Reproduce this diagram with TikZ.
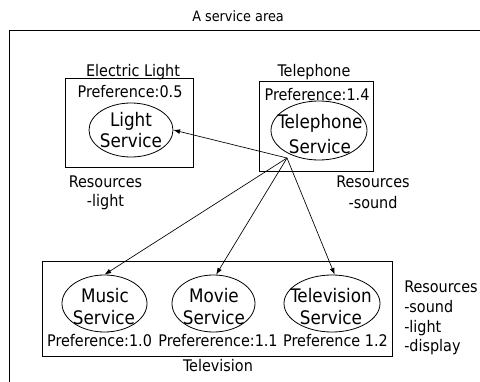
\documentclass[tikz,border=0pt]{standalone}
\usepackage{fontspec}
\setmainfont{DejaVu Sans Condensed}
\usetikzlibrary{shapes.geometric,arrows.meta}
\tikzset{
  frame/.style={draw, line width=0.6pt},
  svc/.style={draw, ellipse, line width=0.6pt, inner sep=0pt},
  txt/.style={anchor=base, inner sep=0pt, font=\fontsize{12}{14}\selectfont},
  btxt/.style={txt, font=\fontsize{14}{16}\selectfont},
  ltxt/.style={txt, anchor=base west},
  link/.style={draw, line width=0.5pt, -{Latex[length=5pt,width=3.6pt]}},
}
\begin{document}
\begin{tikzpicture}[x=0.75pt,y=-0.75pt]
\useasboundingbox (0,0) rectangle (480,382);

% overall area, running past the page edges
\draw[frame] (9,400) -- (9,30) -- (500,30);
\node[txt, font=\fontsize{10.7}{12}\selectfont] (title) at (238,21.5) {A service area};

% electric light device
\draw[frame] (65,78) rectangle (193,167);
\node[txt] (elname) at (133,77) {Electric Light};
\node[txt] (elpref) at (130,98) {Preference:0.5};
\node[svc, minimum width=63pt, minimum height=40.5pt] (light) at (131,130) {};
\node[btxt] (light1) at (131,127) {Light};
\node[btxt] (light2) at (131,147) {Service};
\node[txt] (elres1) at (105.5,187) {Resources};
\node[txt] (elres2) at (105.5,207) {-light};

% telephone device
\draw[frame] (259,81) rectangle (373,171);
\node[txt] (telname) at (314,77) {Telephone};
\node[txt] (telpref) at (317,100) {Preference:1.4};
\node[svc, minimum width=72pt, minimum height=44.25pt] (tel) at (319,130.5) {};
\node[btxt] (tel1) at (320,128) {Telephone};
\node[btxt] (tel2) at (320,153) {Service};
\node[txt] (telres1) at (373,188) {Resources};
\node[txt] (telres2) at (373,209) {-sound};

% television device
\draw[frame] (42,261) rectangle (392,356);
\node[txt] (tvname) at (218,372) {Television};
\node[svc, minimum width=63.75pt, minimum height=42.75pt] (music) at (104.5,303.5) {};
\node[btxt] (music1) at (105,303) {Music};
\node[btxt] (music2) at (104,325) {Service};
\node[txt] (musicpref) at (99.5,347) {Preference:1.0};
\node[svc, minimum width=62.25pt, minimum height=42.75pt] (movie) at (213.5,303.5) {};
\node[btxt] (movie1) at (214,303) {Movie};
\node[btxt] (movie2) at (214,325) {Service};
\node[txt] (moviepref) at (218,347) {Prefererence:1.1};
\node[svc, minimum width=72pt, minimum height=42.75pt] (tv) at (332,303.5) {};
\node[btxt] (tv1) at (331,303) {Television};
\node[btxt] (tv2) at (331,325) {Service};
\node[txt] (tvpref) at (335.5,347) {Preference 1.2};
\node[ltxt] (tvres1) at (404,292) {Resources};
\node[ltxt] (tvres2) at (404,312.5) {-sound};
\node[ltxt] (tvres3) at (404,332.5) {-light};
\node[ltxt] (tvres4) at (404,352) {-display};

% requests issued by the telephone service
\coordinate (src) at (287,158);
\draw[link] (src) -- (light.east);
\draw[link] (src) -- (music.north);
\draw[link] (src) -- ([xshift=2pt]movie.north);
\draw[link] (src) -- ([xshift=2pt]tv.north);
\end{tikzpicture}
\end{document}
